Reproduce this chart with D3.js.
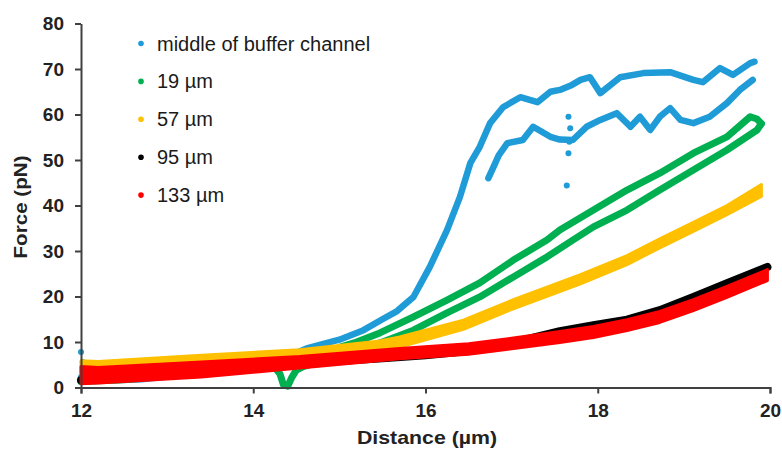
<!DOCTYPE html>
<meta charset="utf-8">
<style>
    body { margin: 0; background: #fff; }
    svg { font-family: "Liberation Sans", Arial, sans-serif; }
    .axis path, .axis line { stroke: #404040; stroke-width: 2; }
    .axis text { font-size: 19px; font-weight: bold; fill: #222; }
</style>
<body>
<script src="https://d3js.org/d3.v7.min.js"></script>
<script>

    var width = 782,
        height = 451;

    // tick labels and legend
    var xTicks = [12, 14, 16, 18, 20];
    var yTicks = [0, 10, 20, 30, 40, 50, 60, 70, 80];
    var seriesNames = ["middle of buffer channel", "19 µm", "57 µm", "95 µm", "133 µm"];
    var seriesColors = ["#1f9bd7", "#00b050", "#ffc000", "#000000", "#ff0000"];

    // [distance (µm), force (pN)]
    var bufferApproach = [[12.0,2.2],[12.3,1.6],[12.7,1.8],[13.0,2.4],[13.5,3.4],[14.0,4.8],[14.3,6.0],[14.62,8.6],
        [15.0,10.5],[15.28,12.6],[15.5,15.0],[15.67,16.8],[15.86,19.9],[16.05,26.5],[16.25,34.6],[16.4,41.9],
        [16.52,49.3],[16.63,52.9],[16.75,58.1],[16.9,61.6],[17.1,63.8],[17.3,62.7],[17.45,65.0],[17.56,65.4],
        [17.7,66.5],[17.8,67.6],[17.91,68.2],[18.03,64.7],[18.26,68.2],[18.53,69.1],[18.84,69.3],[19.11,67.6],
        [19.22,67.1],[19.42,70.2],[19.57,68.7],[19.77,71.3],[19.82,71.6]];
    var bufferRetract = [[19.8,67.6],[19.65,65.4],[19.5,62.5],[19.3,59.5],[19.11,58.1],[18.96,58.8],[18.84,61.4],
        [18.72,59.5],[18.61,56.6],[18.49,59.5],[18.38,57.3],[18.22,60.3],[18.03,58.8],[17.87,57.3],[17.71,54.4],
        [17.56,54.5],[17.45,55.1],[17.25,57.3],[17.13,54.4],[16.95,53.7],[16.85,51.0],[16.79,48.5],[16.73,46.0]];
    var bufferStray = [[12.0,7.8],[12.02,5.6],[17.64,44.4],[17.66,51.5],[17.67,54.0],[17.68,57.0],[17.66,59.5]];

    var d19Approach = [[12.0,1.3],[12.5,1.7],[13.0,2.5],[13.5,3.3],[14.0,4.1],[14.25,4.4],[14.31,3.0],[14.35,0.6],
        [14.4,0.3],[14.45,2.3],[14.5,3.8],[14.58,4.6],[14.8,5.8],[15.0,7.0],[15.2,8.3],[15.47,9.8],[15.86,12.6],
        [16.25,16.4],[16.63,19.9],[17.02,24.3],[17.41,28.7],[17.71,32.4],[17.95,35.3],[18.34,39.0],[18.72,43.4],
        [19.11,47.8],[19.5,52.2],[19.85,56.6],[19.9,58.0]];
    var d19Retract = [[19.9,58.0],[19.85,59.0],[19.77,59.5],[19.5,55.1],[19.11,51.5],[18.72,47.1],[18.34,43.4],
        [17.95,39.0],[17.56,34.6],[17.41,32.4],[17.02,28.0],[16.63,23.0],[16.25,19.2],[15.86,15.5],[15.47,12.0],
        [15.2,10.0],[15.0,8.8]];

    // [distance, lower edge, upper edge] of the noisy bands
    var d57 = [[12.0,3.2,5.9],[12.2,3.4,5.7],[13.4,4.9,7.1],[14.54,6.5,8.3],[15.47,8.0,10.2],[15.7,8.9,11.1],
        [16.44,12.8,14.8],[17.02,17.3,19.3],[17.8,22.8,24.8],[18.34,27.0,29.0],[18.72,30.7,32.7],[19.11,34.3,36.3],
        [19.5,38.0,40.0],[19.9,42.0,44.6]];

    var d95 = [[12.0,1.6],[12.5,2.3],[13.0,3.0],[13.5,3.7],[14.0,4.5],[14.5,5.2],[15.0,5.8],[15.5,6.4],[16.0,7.1],
        [16.5,8.0],[17.0,9.8],[17.56,12.4],[17.95,13.7],[18.34,14.9],[18.72,17.0],[19.11,19.9],[19.5,22.9],[19.97,26.5]];

    var d133 = [[12.0,0.8,4.6],[12.2,1.0,4.4],[13.4,2.3,5.6],[14.54,4.3,6.8],[15.7,6.3,8.6],[16.5,7.3,9.6],
        [17.0,8.5,10.8],[17.56,9.9,12.3],[17.95,11.0,13.4],[18.34,12.5,14.9],[18.72,14.3,16.7],[19.11,16.9,19.3],
        [19.5,19.8,22.2],[19.97,23.5,25.9]];

    var svg = d3.select("body").append("svg")
        .attr("width", width)
        .attr("height", height);

    var x = d3.scaleLinear().domain([12, 20]).range([81, 770]);
    var y = d3.scaleLinear().domain([0, 80]).range([387.5, 23.5]);

    var line = d3.line()
        .x(function(d) { return x(d[0]); })
        .y(function(d) { return y(d[1]); });

    var band = d3.area()
        .x(function(d) { return x(d[0]); })
        .y0(function(d) { return y(d[1]); })
        .y1(function(d) { return y(d[2]); });

    var plot = svg.append("g");

    function drawLine(data, c, w) {
        plot.append("path")
            .attr("d", line(data))
            .style("fill", "none")
            .style("stroke", seriesColors[c])
            .style("stroke-width", w)
            .style("stroke-linejoin", "round")
            .style("stroke-linecap", "round");
    }

    function drawBand(data, c) {
        plot.append("path")
            .attr("d", band(data))
            .style("fill", seriesColors[c])
            .style("stroke", seriesColors[c])
            .style("stroke-width", 3)
            .style("stroke-linejoin", "round");
    }

    drawLine(bufferApproach, 0, 6.5);
    drawLine(bufferRetract, 0, 6.5);
    plot.selectAll("circle.stray")
        .data(bufferStray)
        .enter().append("circle")
        .attr("class", "stray")
        .attr("cx", function(d) { return x(d[0]); })
        .attr("cy", function(d) { return y(d[1]); })
        .attr("r", 3)
        .style("fill", seriesColors[0]);
    drawLine(d19Approach, 1, 7);
    drawLine(d19Retract, 1, 7);
    drawBand(d57, 2);
    drawLine(d95, 3, 8);
    drawBand(d133, 4);

    // axes
    svg.append("g")
        .attr("class", "x axis")
        .attr("transform", "translate(0," + y(0) + ")")
        .call(d3.axisBottom(x).tickValues(xTicks).tickSize(6).tickSizeOuter(6).tickPadding(10));

    svg.append("g")
        .attr("class", "y axis")
        .attr("transform", "translate(" + x(12) + ",0)")
        .call(d3.axisLeft(y).tickValues(yTicks).tickSize(6).tickSizeOuter(0).tickPadding(11));

    svg.append("text")
        .attr("x", 427)
        .attr("y", 444)
        .attr("text-anchor", "middle")
        .attr("textLength", 140)
        .attr("lengthAdjust", "spacingAndGlyphs")
        .style("font-size", "19px")
        .style("font-weight", "bold")
        .style("fill", "#222")
        .text("Distance (µm)");

    svg.append("text")
        .attr("transform", "translate(27,207) rotate(-90)")
        .attr("text-anchor", "middle")
        .attr("textLength", 103)
        .attr("lengthAdjust", "spacingAndGlyphs")
        .style("font-size", "19px")
        .style("font-weight", "bold")
        .style("fill", "#222")
        .text("Force (pN)");

    // legend
    var legend = svg.append("g")
        .selectAll("g")
        .data(seriesNames)
        .enter().append("g")
        .attr("transform", function(d, i) { return "translate(141," + (43.5 + i * 37.9) + ")"; });

    legend.append("circle")
        .attr("r", 2.8)
        .style("fill", function(d, i) { return seriesColors[i]; });

    legend.append("text")
        .attr("x", 16)
        .attr("y", 7)
        .style("font-size", "20px")
        .style("fill", "#1a1a1a")
        .text(function(d) { return d; });

</script>
